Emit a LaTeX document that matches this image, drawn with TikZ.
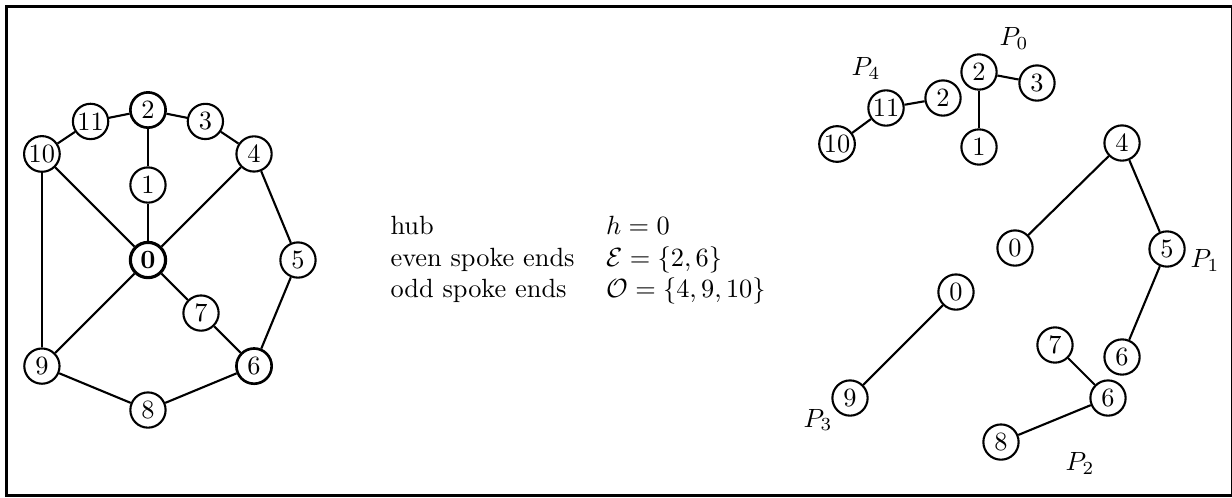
\documentclass[tikz,border=0pt]{standalone}
\usepackage{tikz}
\usetikzlibrary{positioning}

\begin{document}
\begin{tikzpicture}[
    vertex/.style={circle, draw, thick, minimum size=0.47cm, inner sep=0.5pt},
    hubvertex/.style={vertex, very thick, font=\bfseries},
    evenend/.style={vertex, line width=1pt},
    edge/.style={thick},
    pathlabel/.style={inner sep=0pt}
]

\useasboundingbox (-1.973,3.467) rectangle (14.453,-3.16);
\draw[thick] (-1.887,3.38) rectangle (14.447,-3.14);

% wheel with hub 0
\node[hubvertex] (g0) at (0,0) {0};
\node[vertex] (g1) at (90:1) {1};
\node[evenend] (g2) at (90:2) {2};
\node[vertex] (g3) at (67.5:2) {3};
\node[vertex] (g4) at (45:2) {4};
\node[vertex] (g5) at (0:2) {5};
\node[evenend] (g6) at (-45:2) {6};
\node[vertex] (g7) at (-45:1) {7};
\node[vertex] (g8) at (-90:2) {8};
\node[vertex] (g9) at (-135:2) {9};
\node[vertex] (g10) at (135:2) {10};
\node[vertex] (g11) at (112.5:2) {11};

% rim
\foreach \a/\b in {2/3,3/4,4/5,5/6,6/8,8/9,9/10,10/11,11/2}
    \draw[edge] (g\a) -- (g\b);

% spokes
\draw[edge] (g0) -- (g1) -- (g2);
\draw[edge] (g0) -- (g7) -- (g6);
\draw[edge] (g0) -- (g4);
\draw[edge] (g0) -- (g9);
\draw[edge] (g0) -- (g10);

% summary
\node[anchor=west, inner sep=0pt] (summary) at (3.227,0) {%
    \begin{tabular}{@{}ll}
    hub & $h=0$\\
    even spoke ends & $\mathcal{E}=\{2,6\}$\\
    odd spoke ends & $\mathcal{O}=\{4,9,10\}$
    \end{tabular}};

% P0
\node[vertex] (p0a) at (11.08,2.507) {2};
\node[vertex] (p0b) at (11.853,2.36) {3};
\node[vertex] (p0c) at (11.08,1.507) {1};
\draw[edge] (p0a) -- (p0b);
\draw[edge] (p0a) -- (p0c);
\node[pathlabel] (lab0) at (11.547,2.96) {$P_0$};

% P4
\node[vertex] (p4a) at (10.6,2.16) {2};
\node[vertex] (p4b) at (9.84,2.027) {11};
\node[vertex] (p4c) at (9.187,1.547) {10};
\draw[edge] (p4a) -- (p4b) -- (p4c);
\node[pathlabel] (lab4) at (9.573,2.56) {$P_4$};

% P1
\node[vertex] (p1a) at (12.987,1.56) {4};
\node[vertex] (p1b) at (11.56,0.16) {0};
\node[vertex] (p1c) at (13.587,0.147) {5};
\node[vertex] (p1d) at (12.987,-1.293) {6};
\draw[edge] (p1b) -- (p1a) -- (p1c) -- (p1d);
\node[pathlabel] (lab1) at (14.093,0) {$P_1$};

% P3
\node[vertex] (p3a) at (10.773,-0.427) {0};
\node[vertex] (p3b) at (9.36,-1.84) {9};
\draw[edge] (p3a) -- (p3b);
\node[pathlabel] (lab3) at (8.933,-2.133) {$P_3$};

% P2
\node[vertex] (p2a) at (12.093,-1.133) {7};
\node[vertex] (p2b) at (12.8,-1.84) {6};
\node[vertex] (p2c) at (11.373,-2.427) {8};
\draw[edge] (p2a) -- (p2b) -- (p2c);
\node[pathlabel] (lab2) at (12.427,-2.707) {$P_2$};

\end{tikzpicture}
\end{document}
